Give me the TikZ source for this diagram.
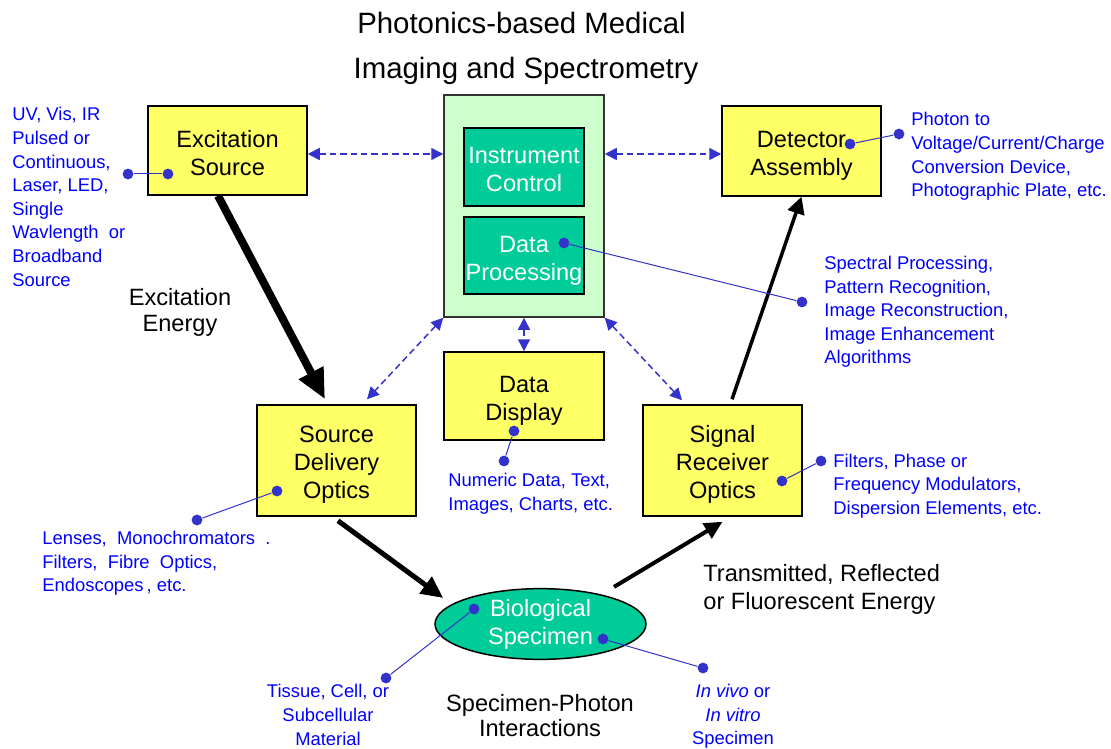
\documentclass[tikz,border=0pt]{standalone}
\usepackage{fontspec}
\setmainfont{Liberation Sans}
\usetikzlibrary{positioning,shapes.geometric,arrows.meta}
\definecolor{boxyellow}{HTML}{FFFF66}
\definecolor{panelgreen}{HTML}{CCFFCC}
\definecolor{tealgreen}{HTML}{00CC99}
\definecolor{dotblue}{HTML}{3333CC}
\definecolor{noteblue}{HTML}{0000FF}
\newcommand{\dropstrut}[1]{\rule{0pt}{#1}}

\begin{document}
\begin{tikzpicture}[x=0.5pt, y=-0.5pt,
        yellowbox/.style={rectangle, draw=black, line width=0.75pt, fill=boxyellow, inner sep=0pt, minimum width=79.5pt, align=center, font=\fontsize{11.8}{14}\selectfont},
        tealbox/.style={rectangle, draw=black, line width=0.75pt, fill=tealgreen, text=white, inner sep=0pt, minimum width=60pt, align=center, font=\fontsize{11.8}{14}\selectfont},
        titletext/.style={inner sep=0pt, font=\fontsize{14.7}{17}\selectfont},
        plainlabel/.style={inner sep=0pt, align=center},
        bluenote/.style={inner sep=0pt, text=noteblue, align=left, font=\fontsize{9.2}{11.8}\selectfont},
        bluedot/.style={circle, fill=dotblue, inner sep=0pt, minimum size=5.4pt},
        bluelink/.style={draw=dotblue, line width=0.5pt},
        ctrlarrow/.style={draw=dotblue, line width=0.75pt, dash pattern=on 3.2pt off 2pt, {Triangle[length=6pt,width=6pt]}-{Triangle[length=6pt,width=6pt]}},
        beam/.style={draw=black}]
        \useasboundingbox[fill=white] (0,0) rectangle (1111,748);

        \node[titletext, anchor=base] (title1) at (521.5,33.5) {Photonics-based Medical};
        \node[titletext, anchor=base] (title2) at (526,79) {Imaging and Spectrometry};

        \node[rectangle, draw=black!80, line width=0.75pt, fill=panelgreen, minimum width=80pt, minimum height=111pt] (panel) at (524,206) {};
        \node[tealbox, minimum height=39pt] (ctrl) at (524,167) {\dropstrut{10.5pt}Instrument\\Control};
        \node[tealbox, minimum height=38.5pt] (proc) at (524,255.5) {\dropstrut{13pt}Data\\Processing};
        \node[yellowbox, minimum height=44.5pt] (exc) at (227.5,150.5) {\dropstrut{11.5pt}Excitation\\Source};
        \node[yellowbox, minimum height=45pt] (det) at (801.5,151) {\dropstrut{13pt}Detector\\Assembly};
        \node[yellowbox, minimum width=80pt, minimum height=44pt] (disp) at (524,396) {\dropstrut{13pt}Data\\Display};
        \node[yellowbox, minimum height=55.5pt] (sdo) at (336.5,460.5) {\dropstrut{12.5pt}Source\\Delivery\\Optics};
        \node[yellowbox, minimum height=55.5pt] (sro) at (722.5,460.5) {\dropstrut{12.5pt}Signal\\Receiver\\Optics};
        \node[ellipse, draw=black, line width=0.75pt, fill=tealgreen, text=white, inner sep=0pt, minimum width=105.5pt, minimum height=35pt, align=center, font=\fontsize{11.8}{14}\selectfont] (bio) at (540.5,624) {Biological\\Specimen};

        \node[plainlabel, font=\fontsize{11.8}{13}\selectfont] (exclabel) at (180,312) {Excitation\\Energy};
        \node[plainlabel, anchor=west, align=left, font=\fontsize{11.8}{14}\selectfont] (siglabel) at (703,589) {Transmitted, Reflected\\or Fluorescent Energy};
        \node[plainlabel, font=\fontsize{11.8}{12.5}\selectfont] (interlabel) at (540,715.5) {Specimen-Photon\\Interactions};

        \node[bluenote, anchor=west] (srcnote) at (12,197) {UV, Vis, IR\\Pulsed or\\Continuous,\\Laser, LED,\\Single\\Wavlength~ or\\Broadband\\Source};
        \node[bluenote, anchor=west] (detnote) at (911,156.5) {Photon to\\Voltage/Current/Charge\\Conversion Device,\\Photographic Plate, etc.};
        \node[bluenote, anchor=west] (procnote) at (824,312) {Spectral Processing,\\Pattern Recognition,\\Image Reconstruction,\\Image Enhancement\\Algorithms};
        \node[bluenote, anchor=west] (dispnote) at (448,494) {Numeric Data, Text,\\Images, Charts, etc.};
        \node[bluenote, anchor=west] (sronote) at (833,486) {Filters, Phase or\\Frequency Modulators,\\Dispersion Elements, etc.};
        \node[bluenote, anchor=west] (sdonote) at (42,563.5) {Lenses,~ Monochromators~ .\\Filters,~ Fibre~ Optics,\\Endoscopes\,, etc.};
        \node[bluenote, align=center] (tissuenote) at (328,715) {Tissue, Cell, or\\Subcellular\\Material};
        \node[bluenote, align=center] (vivonote) at (733,716.5) {\textit{In vivo} or\\\textit{In vitro}\\Specimen};

        \draw[beam, line width=4pt, -{Triangle[length=15pt,width=13pt]}] (exc.south) ++(-4.75pt,0) -- ([xshift=-5.75pt,yshift=2.5pt]sdo.north);
        \draw[beam, line width=2.5pt, -{Triangle[length=11pt,width=10pt]}] ([xshift=0.75pt,yshift=-2pt]sdo.south) -- ([xshift=4.5pt,yshift=13pt]bio.west);
        \draw[beam, line width=2pt, -{Triangle[length=9pt,width=8.5pt]}] ([xshift=36.75pt,yshift=0.5pt]bio.north) -- ([yshift=-2.5pt]sro.south);
        \draw[beam, line width=1.75pt, -{Triangle[length=8.5pt,width=8.5pt]}] ([xshift=4.75pt,yshift=2.5pt]sro.north) -- (det.south);

        \draw[ctrlarrow] ([yshift=-1.75pt]exc.east) -- ([yshift=-1.75pt]panel.west |- exc.east);
        \draw[ctrlarrow] ([yshift=-1.5pt]panel.east |- det.west) -- ([yshift=-1.5pt]det.west);
        \draw[ctrlarrow] (panel.south west) -- ([xshift=15.25pt,yshift=2.5pt]sdo.north);
        \draw[ctrlarrow] (panel.south) -- (disp.north);
        \draw[ctrlarrow] (panel.south east) -- ([xshift=-20.25pt,yshift=2pt]sro.north);

        \node[bluedot] (excdotin) at (168,174) {};
        \node[bluedot] (excdotout) at (128,174) {};
        \node[bluedot] (detdotin) at (850,144) {};
        \node[bluedot] (detdotout) at (899,134) {};
        \node[bluedot] (procdotin) at (564,243) {};
        \node[bluedot] (procdotout) at (802,302) {};
        \node[bluedot] (dispdotin) at (514,431) {};
        \node[bluedot] (dispdotout) at (504,461) {};
        \node[bluedot] (sdodotin) at (277,491) {};
        \node[bluedot] (sdodotout) at (197,520) {};
        \node[bluedot] (srodotin) at (782,481) {};
        \node[bluedot] (srodotout) at (821,461) {};
        \node[bluedot] (biodotl) at (474,609) {};
        \node[bluedot] (tissuedot) at (386,678) {};
        \node[bluedot] (biodotr) at (603,639) {};
        \node[bluedot] (vivodot) at (703,668) {};

        \draw[bluelink] (excdotin) -- (excdotout);
        \draw[bluelink] (detdotin) -- (detdotout);
        \draw[bluelink] (procdotin) -- (procdotout);
        \draw[bluelink] (dispdotin) -- (dispdotout);
        \draw[bluelink] (sdodotin) -- (sdodotout);
        \draw[bluelink] (srodotin) -- (srodotout);
        \draw[bluelink] (biodotl) -- (tissuedot);
        \draw[bluelink] (biodotr) -- (vivodot);
    \end{tikzpicture}
\end{document}
